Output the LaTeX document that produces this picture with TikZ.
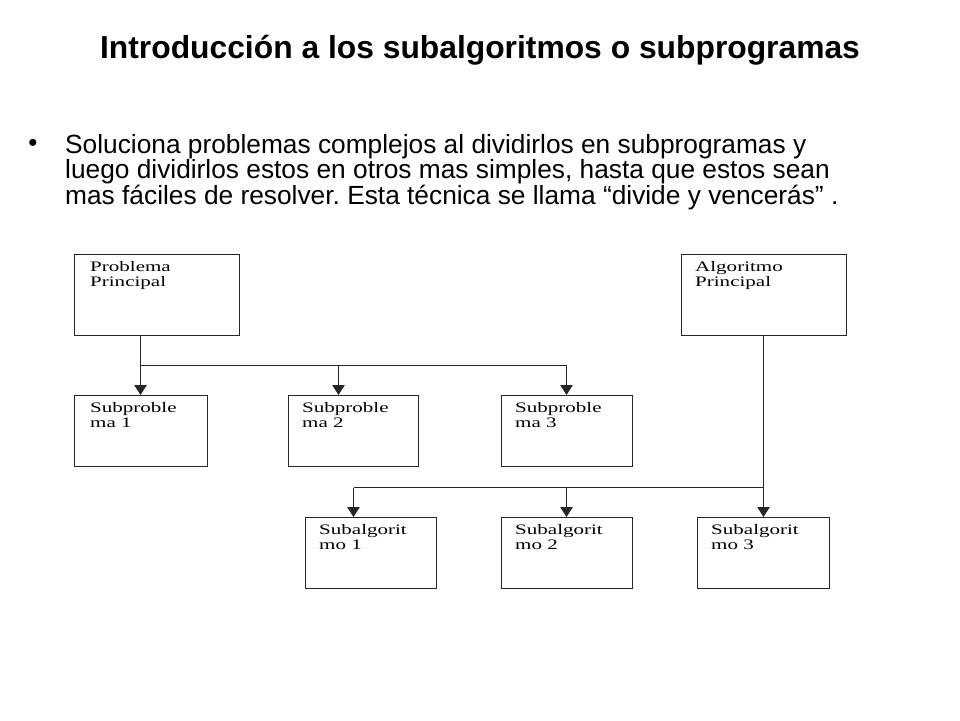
\documentclass[tikz,border=0pt]{standalone}
\usepackage{fontspec}
\setmainfont{Liberation Sans}
\newfontfamily\boxfont{Liberation Serif}
\usetikzlibrary{arrows.meta}
\frenchspacing
\tikzset{
  boxnode/.style={draw=black!85, line width=1.1pt, anchor=north west, inner sep=0pt, fill=white},
  boxtext/.style={anchor=base west, inner sep=0pt, font=\boxfont\fontsize{14.5}{15.5}\selectfont, align=left, text=black},
  conn/.style={draw=black!85, line width=1pt},
  arr/.style={conn, -{Triangle[width=12.5pt,length=10pt]}},
  bodytext/.style={anchor=base west, inner sep=0pt, font=\fontsize{26.3}{27}\selectfont},
}
\newcommand{\wtxt}[1]{\scalebox{1.45}[1]{#1}}
\begin{document}
\begin{tikzpicture}[x=1pt,y=-1pt]
\useasboundingbox (0,0) rectangle (960,720);
\fill[white] (0,0) rectangle (960,720);
% title
\node[anchor=base, inner sep=0pt, font=\bfseries\fontsize{31.8}{33}\selectfont] (title) at (480,58.5) {Introducción a los subalgoritmos o subprogramas};
% bullet
\node[anchor=center, inner sep=0pt, font=\fontsize{26}{27}\selectfont] (bul) at (33,145) {•};
\node[bodytext] (l1) at (65,153) {Soluciona problemas complejos al dividirlos en subprogramas y};
\node[bodytext] (l2) at (65,178.5) {luego dividirlos estos en otros mas simples, hasta que estos sean};
\node[bodytext] (l3) at (65,204) {mas fáciles de resolver. Esta técnica se llama “divide y vencerás” .};
% boxes
\node[boxnode, minimum width=165pt, minimum height=81pt] (pp) at (74,254) {};
\node[boxnode, minimum width=165pt, minimum height=81pt] (ap) at (681,254) {};
\node[boxnode, minimum width=133pt, minimum height=71pt] (sp1) at (74,395) {};
\node[boxnode, minimum width=130pt, minimum height=71pt] (sp2) at (288,395) {};
\node[boxnode, minimum width=131pt, minimum height=71pt] (sp3) at (501,395) {};
\node[boxnode, minimum width=131pt, minimum height=71pt] (sa1) at (305,517) {};
\node[boxnode, minimum width=131pt, minimum height=71pt] (sa2) at (501,517) {};
\node[boxnode, minimum width=132pt, minimum height=71pt] (sa3) at (697,517) {};
% box texts (anchored at the baseline of the second line)
\node[boxtext] (tpp) at (90,286.5) {\wtxt{Problema}\\\wtxt{Principal}};
\node[boxtext] (tap) at (695,286.5) {\wtxt{Algoritmo}\\\wtxt{Principal}};
\node[boxtext] (tsp1) at (90,427.5) {\wtxt{Subproble}\\\wtxt{ma 1}};
\node[boxtext] (tsp2) at (302,427.5) {\wtxt{Subproble}\\\wtxt{ma 2}};
\node[boxtext] (tsp3) at (515,427.5) {\wtxt{Subproble}\\\wtxt{ma 3}};
\node[boxtext] (tsa1) at (319,549.5) {\wtxt{Subalgorit}\\\wtxt{mo 1}};
\node[boxtext] (tsa2) at (515,549.5) {\wtxt{Subalgorit}\\\wtxt{mo 2}};
\node[boxtext] (tsa3) at (711,549.5) {\wtxt{Subalgorit}\\\wtxt{mo 3}};
% connector coordinates
\coordinate (j1) at (140.5,365.5);
\coordinate (j2) at (338.5,365.5);
\coordinate (j3) at (566.5,365.5);
\coordinate (k0) at (763.5,487.5);
\coordinate (k1) at (353.5,487.5);
\coordinate (k2) at (566.5,487.5);
% problem tree
\draw[arr] (j1 |- pp.south) -- (j1 |- sp1.north);
\draw[conn] (j1) -- (j3);
\draw[arr] (j2) -- (j2 |- sp2.north);
\draw[arr] (j3) -- (j3 |- sp3.north);
% algorithm tree
\draw[arr] (k0 |- ap.south) -- (k0 |- sa3.north);
\draw[conn] (k0) -- (k1);
\draw[arr] (k1) -- (k1 |- sa1.north);
\draw[arr] (k2) -- (k2 |- sa2.north);
\end{tikzpicture}
\end{document}
